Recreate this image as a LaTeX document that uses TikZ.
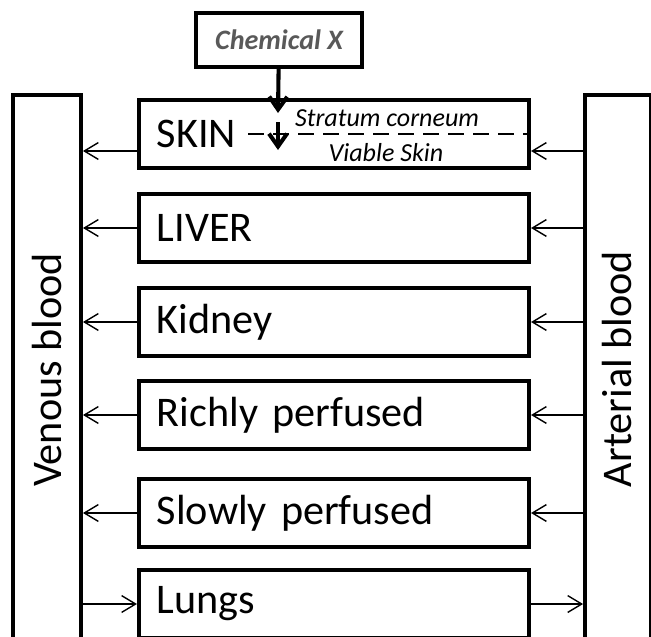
\documentclass[tikz,border=0pt]{standalone}
\usepackage{fontspec}
\setmainfont{Carlito}
\usetikzlibrary{arrows.meta}

\begin{document}
\begin{tikzpicture}[x=0.025cm, y=-0.025cm,
    organ/.style={draw=borderColour, line width=2.8pt, text width=8.85cm, inner xsep=0.45cm,
        minimum height=1.7cm, align=left, font=\fontsize{30}{36}\selectfont},
    bar/.style={draw=borderColour, line width=2.8pt},
    bartext/.style={rotate=90, font=\fontsize{30}{36}\selectfont},
    flow/.style={-{Straight Barb[length=0.35cm, width=0.42cm]}, line width=1pt},
    drop/.style={-{Straight Barb[length=0.32cm, width=0.45cm]}, line width=2.9pt},
    layertext/.style={font=\fontsize{18.5}{22}\selectfont\itshape}]
    \definecolor{borderColour}{HTML}{000000}
    \definecolor{textColourX}{HTML}{595959}

    \useasboundingbox (0,0) rectangle (651,637);
    \clip (0,0) rectangle (651,637);

    % Draw blood compartments
    \node[bar, minimum width=1.7cm, minimum height=14.25cm] (venous) at (47,380) {};
    \node[bar, minimum width=1.66cm, minimum height=14.25cm] (arterial) at (618.25,380) {};
    \node[bartext] at (47,370) {Venous blood};
    \node[bartext] at (617,369) {Arterial blood};

    % Draw organs
    \foreach \y/\name/\txt in {228/liver/LIVER, 322/kidney/Kidney,
        415/richly/Richly perfused, 513/slowly/Slowly perfused}
    {
        \node[organ] (\name) at (334,\y) {\txt};
        \draw[flow] (\name.west) -- (\name.west -| venous.east);
        \draw[flow] (\name.east -| arterial.west) -- (\name.east);
    }

    % Draw lungs (flow goes the other way)
    \node[organ] (lungs) at (334,604) {Lungs};
    \draw[flow] (lungs.west -| venous.east) -- (lungs.west);
    \draw[flow] (lungs.east) -- (lungs.east -| arterial.west);

    % Draw skin with its two layers
    \node[organ] (skin) at (334,134) {SKIN};
    \coordinate (skinflow) at (334,151);
    \draw[flow] (skinflow -| skin.west) -- (skinflow -| venous.east);
    \draw[flow] (skinflow -| arterial.west) -- (skinflow -| skin.east);
    \coordinate (dashstart) at (248,134);
    \draw[line width=1.5pt, dash pattern=on 0.4cm off 0.225cm] (dashstart) -- (dashstart -| skin.east);
    \node[layertext] (corneum) at (387,118) {Stratum corneum};
    \node[layertext] (viable) at (386,153) {Viable Skin};

    % Draw chemical and its way through the skin
    \node[draw=borderColour, line width=2.8pt, minimum width=4.15cm, minimum height=1.35cm,
        text=textColourX, font=\fontsize{20}{24}\selectfont\bfseries\itshape] (chem) at (279,40) {Chemical X};
    \coordinate (entry) at (278,113);
    \coordinate (inner) at (278,122);
    \coordinate (deep) at (278,150);
    \draw[drop] (chem) -- (entry);
    \draw[drop] (inner) -- (deep);

\end{tikzpicture}
\end{document}
